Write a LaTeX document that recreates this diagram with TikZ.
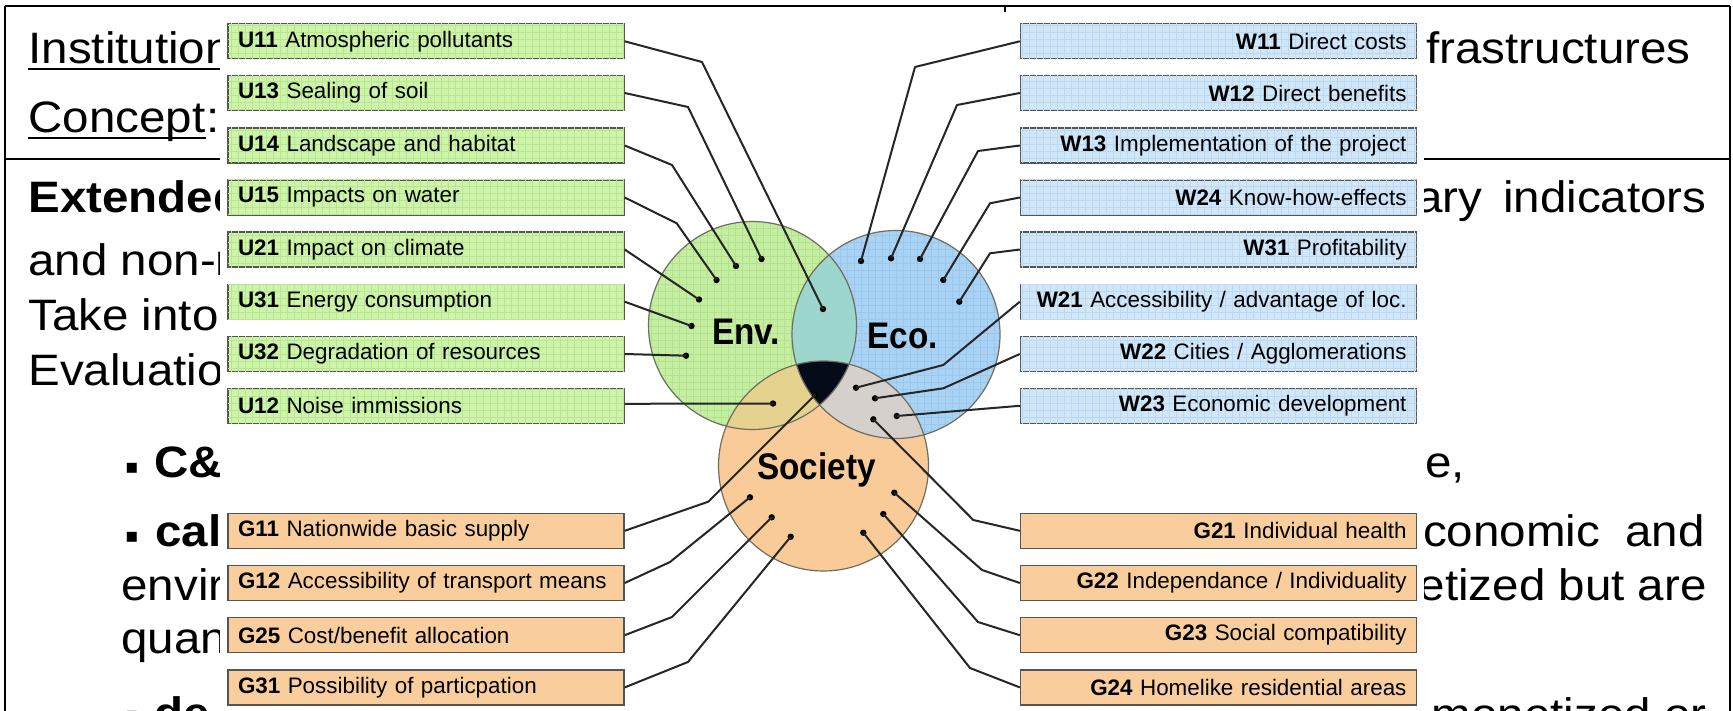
\documentclass[tikz,border=0pt]{standalone}
\usepackage{fontspec}
\setmainfont{Liberation Sans}[FakeStretch=1.08]
\newfontfamily\labelfont{Liberation Sans}[FakeStretch=0.9]
\newfontfamily\boxfont{Liberation Sans}
\newfontfamily\symfont{DejaVu Sans}
\usetikzlibrary{patterns}
\pgfdeclarepatternformonly{fgrid}{\pgfqpoint{-1pt}{-1pt}}{\pgfqpoint{4.5pt}{4.5pt}}{\pgfqpoint{3.5pt}{3.5pt}}{%
  \pgfsetlinewidth{0.3pt}%
  \pgfpathmoveto{\pgfqpoint{0pt}{0pt}}%
  \pgfpathlineto{\pgfqpoint{0pt}{3.6pt}}%
  \pgfpathmoveto{\pgfqpoint{0pt}{0pt}}%
  \pgfpathlineto{\pgfqpoint{3.6pt}{0pt}}%
  \pgfusepath{stroke}}
\definecolor{ugreen}{HTML}{CCF5A8}
\definecolor{ugrid}{HTML}{BBE499}
\definecolor{wblue}{HTML}{D0E7FA}
\definecolor{wgrid}{HTML}{BED8F0}
\definecolor{gorange}{HTML}{F9CE9C}
\definecolor{envfill}{HTML}{C5EFA0}
\definecolor{envgrid}{HTML}{B5DF91}
\definecolor{ecofill}{HTML}{A9D3F5}
\definecolor{ecogrid}{HTML}{9DC7EA}
\definecolor{socfill}{HTML}{F8CB98}
\definecolor{tealfill}{HTML}{9CD6CE}
\definecolor{tanfill}{HTML}{E6D28F}
\definecolor{greyfill}{HTML}{D5D0CC}
\definecolor{triple}{HTML}{060B1A}
\definecolor{boxline}{HTML}{555555}
\definecolor{conline}{HTML}{262626}
\definecolor{ringline}{HTML}{6E6E5E}
\tikzset{
  slide/.style={inner sep=0pt, font=\fontsize{22pt}{26pt}\selectfont},
  slideb/.style={inner sep=0pt, font=\fontsize{22pt}{26pt}\selectfont\bfseries},
  bul/.style={inner sep=0pt, font=\symfont\fontsize{10pt}{10pt}\selectfont},
  frame/.style={line width=1.3pt, black},
  uline/.style={line width=1.3pt},
  ibox/.style={draw=boxline, line width=0.7pt, inner xsep=5pt, inner ysep=0pt,
    minimum height=17.5pt, text width=188pt, font=\boxfont\fontsize{11.2pt}{12pt}\selectfont},
  ubox/.style={ibox, align=left, fill=ugreen, postaction={pattern=fgrid, pattern color=ugrid}},
  wbox/.style={ibox, align=right, fill=wblue, postaction={pattern=fgrid, pattern color=wgrid}},
  glbox/.style={ibox, align=left, fill=gorange},
  grbox/.style={ibox, align=right, fill=gorange},
  dot/.style={circle, fill=black, inner sep=0pt, minimum size=3.2pt},
  con/.style={draw=conline, line width=1pt, line join=round},
  ring/.style={draw=ringline, line width=0.6pt},
  circlabel/.style={font=\labelfont\fontsize{18.5pt}{20pt}\selectfont\bfseries, inner sep=0pt},
}
\begin{document}
\begin{tikzpicture}[x=0.5pt, y=-0.5pt]
\useasboundingbox (0,0) rectangle (1733,711);
\clip (0,0) rectangle (1733,711);
\fill[white] (0,0) rectangle (1733,711);

% ---------- slide behind ----------
\draw[frame] (5,6) -- (1730,6);
\draw[frame] (5,6) -- (5,711);
\draw[frame] (1730,6) -- (1730,711);
\draw[frame] (5,159) -- (1730,159);
\draw[line width=1pt] (1005,6) -- (1005,12);

\node[slide, anchor=base west] (t1) at (28,63.3) {Institution};
\draw[uline] ([yshift=-2.8pt]t1.base west) -- ([yshift=-2.8pt]t1.base east);
\node[slide, anchor=base west] (t2) at (28,133) {Concept};
\node[slide, anchor=base west] (t2c) at (t2.base east) {:};
\draw[uline] ([yshift=-2.6pt]t2.base west) -- ([yshift=-2.6pt]t2.base east);
\node[slide, anchor=base west] (t3) at (1426,63.3) {frastructures};

\node[slideb, anchor=base west] (b1) at (28,213) {Extended};
\node[slide, anchor=base west] (b2) at (28,275) {and non-m};
\node[slide, anchor=base west] (b3) at (28,330) {Take into};
\node[slide, anchor=base west] (b4) at (28,385) {Evaluation};
\node[bul] (k1) at (132,468) {▪};
\node[slideb, anchor=base west] (b5) at (154,477) {C\&};
\node[bul] (k2) at (132,537) {▪};
\node[slideb, anchor=base west] (b6) at (155,546) {cal};
\node[slide, anchor=base west] (b7) at (121,600) {envir};
\node[slide, anchor=base west] (b8) at (121,653) {quan};
\node[bul] (k3) at (132,716) {▪};
\node[slideb, anchor=base west] (b9) at (154,728) {de};

\node[slide, anchor=base east] (r1) at (1707,213) {ary\hspace{4pt} indicators};
\node[slide, anchor=base west] (r2) at (1425,477) {e,};
\node[slide, anchor=base east] (r3) at (1705,546) {conomic\hspace{6pt} and};
\node[slide, anchor=base east] (r4) at (1707,600) {etized but are};
\node[slide, anchor=base east] (r5) at (1707,729) {monetized or};

% ---------- diagram overlay ----------
\fill[white] (220,12) rectangle (1424,711);

\coordinate (cenv) at (752.5,325.5);
\coordinate (ceco) at (896,334.5);
\coordinate (csoc) at (823.5,466);
\fill[envfill] (cenv) circle[radius=104];
\fill[pattern=fgrid, pattern color=envgrid] (cenv) circle[radius=104];
\fill[ecofill] (ceco) circle[radius=104];
\fill[pattern=fgrid, pattern color=ecogrid] (ceco) circle[radius=104];
\fill[socfill] (csoc) circle[radius=105];
\begin{scope}
  \clip (cenv) circle[radius=104];
  \fill[tealfill] (ceco) circle[radius=104];
\end{scope}
\begin{scope}
  \clip (cenv) circle[radius=104];
  \fill[tanfill] (csoc) circle[radius=105];
\end{scope}
\begin{scope}
  \clip (ceco) circle[radius=104];
  \fill[greyfill] (csoc) circle[radius=105];
\end{scope}
\begin{scope}
  \clip (cenv) circle[radius=104];
  \clip (ceco) circle[radius=104];
  \fill[triple] (csoc) circle[radius=105];
\end{scope}
\draw[ring] (cenv) circle[radius=104];
\draw[ring] (ceco) circle[radius=104];
\draw[ring] (csoc) circle[radius=105];

\node[circlabel] (lenv) at (746,331.5) {Env.};
\node[circlabel] (leco) at (902.5,335.5) {Eco.};
\node[circlabel] (lsoc) at (816.5,470) {Society};

% boxes left (U)
\node[ubox] (u11) at (426,41.3) {\textbf{U11} Atmospheric pollutants};
\node[ubox] (u13) at (426,93) {\textbf{U13} Sealing of soil};
\node[ubox] (u14) at (426,145.5) {\textbf{U14} Landscape and habitat};
\node[ubox] (u15) at (426,197.5) {\textbf{U15} Impacts on water};
\node[ubox] (u21) at (426,249.5) {\textbf{U21} Impact on climate};
\node[ubox] (u31) at (426,301.7) {\textbf{U31} Energy consumption};
\node[ubox] (u32) at (426,354) {\textbf{U32} Degradation of resources};
\node[ubox] (u12) at (426,405.8) {\textbf{U12} Noise immissions};
% boxes right (W)
\node[wbox] (w11) at (1218.5,41.3) {\textbf{W11} Direct costs};
\node[wbox] (w12) at (1218.5,93) {\textbf{W12} Direct benefits};
\node[wbox] (w13) at (1218.5,145.5) {\textbf{W13} Implementation of the project};
\node[wbox] (w24) at (1218.5,197.5) {\textbf{W24} Know-how-effects};
\node[wbox] (w31) at (1218.5,249.5) {\textbf{W31} Profitability};
\node[wbox] (w21) at (1218.5,301.7) {\textbf{W21} Accessibility / advantage of loc.};
\node[wbox] (w22) at (1218.5,354) {\textbf{W22} Cities / Agglomerations};
\node[wbox] (w23) at (1218.5,405.8) {\textbf{W23} Economic development};
% boxes bottom (G)
\node[glbox] (g11) at (426,530.8) {\textbf{G11} Nationwide basic supply};
\node[glbox] (g12) at (426,583) {\textbf{G12} Accessibility of transport means};
\node[glbox] (g25) at (426,635.2) {\textbf{G25} Cost/benefit allocation};
\node[glbox] (g31) at (426,687.4) {\textbf{G31} Possibility of particpation};
\node[grbox] (g21) at (1218.5,530.8) {\textbf{G21} Individual health};
\node[grbox] (g22) at (1218.5,583) {\textbf{G22} Independance / Individuality};
\node[grbox] (g23) at (1218.5,635.2) {\textbf{G23} Social compatibility};
\node[grbox] (g24) at (1218.5,687.4) {\textbf{G24} Homelike residential areas};

% dots
\node[dot] (du11) at (823,309) {};
\node[dot] (du13) at (761.5,259) {};
\node[dot] (du14) at (736,266) {};
\node[dot] (du15) at (716.5,280) {};
\node[dot] (du21) at (699,299.5) {};
\node[dot] (du31) at (691.5,326) {};
\node[dot] (du32) at (686,355.7) {};
\node[dot] (du12) at (773,403.5) {};
\node[dot] (dw11) at (861,261) {};
\node[dot] (dw12) at (891,258.3) {};
\node[dot] (dw13) at (920,259) {};
\node[dot] (dw24) at (943.3,280) {};
\node[dot] (dw31) at (959.3,301.7) {};
\node[dot] (dw21) at (856,387.7) {};
\node[dot] (dw22) at (875,398.3) {};
\node[dot] (dw23) at (896.7,416) {};
\node[dot] (dg21) at (873.3,419.3) {};
\node[dot] (dg22) at (894.3,492.7) {};
\node[dot] (dg23) at (883.3,514) {};
\node[dot] (dg24) at (863.3,532.7) {};
\node[dot] (dg11) at (815,395) {};
\node[dot] (dg12) at (750,497.3) {};
\node[dot] (dg25) at (771.7,517.3) {};
\node[dot] (dg31) at (790.7,536.7) {};

% connectors
\draw[con] (u11.east) -- (702,62) -- (du11.center);
\draw[con] (u13.east) -- (688,107) -- (du13.center);
\draw[con] (u14.east) -- (672,165) -- (du14.center);
\draw[con] (u15.east) -- (676.7,223.3) -- (du15.center);
\draw[con] (u21.east) -- (du21.center);
\draw[con] (u31.east) -- (du31.center);
\draw[con] (u32.east) -- (du32.center);
\draw[con] ([yshift=1pt]u12.east) -- (du12.center);
\draw[con] (w11.west) -- (915,67) -- (dw11.center);
\draw[con] (w12.west) -- (957,105) -- (dw12.center);
\draw[con] (w13.west) -- (978,151) -- (dw13.center);
\draw[con] (w24.west) -- (990,203.3) -- (dw24.center);
\draw[con] (w31.west) -- (990,253.3) -- (dw31.center);
\draw[con] (w21.west) -- (943.3,365) -- (dw21.center);
\draw[con] (w22.west) -- (943.3,388.3) -- (dw22.center);
\draw[con] (w23.west) -- (dw23.center);
\draw[con] (g21.west) -- (973.3,520) -- (dg21.center);
\draw[con] (g22.west) -- (982,570) -- (dg22.center);
\draw[con] (g23.west) -- (978,622) -- (dg23.center);
\draw[con] (g24.west) -- (970,668) -- (dg24.center);
\draw[con] (g11.east) -- (708.3,501.7) -- (dg11.center);
\draw[con] (g12.east) -- (670,562) -- (dg12.center);
\draw[con] (g25.east) -- (672,617) -- (dg25.center);
\draw[con] (g31.east) -- (688,662) -- (dg31.center);
\end{tikzpicture}
\end{document}
